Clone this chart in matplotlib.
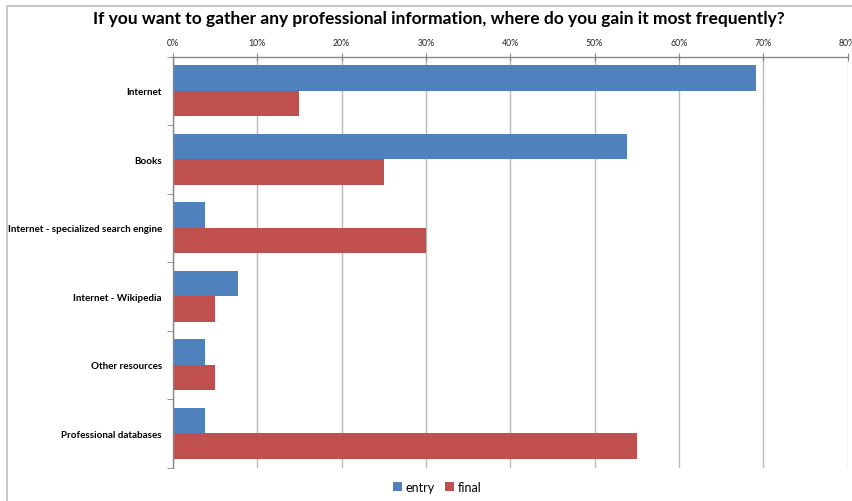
import matplotlib
matplotlib.use("Agg")
import matplotlib.pyplot as plt
import numpy as np
from matplotlib.patches import Rectangle
from matplotlib.ticker import FuncFormatter

plt.rcParams['font.family'] = ['Lato', 'DejaVu Sans']

title = "If you want to gather any professional information, where do you gain it most frequently?"
categories = ["Internet", "Books", "Internet - specialized search engine",
              "Internet - Wikipedia", "Other resources", "Professional databases"]
entry = [69.2, 53.8, 3.8, 7.7, 3.8, 3.8]
final = [15.0, 25.0, 30.0, 5.0, 5.0, 55.0]
series_names = ["entry", "final"]
x_ticks = [0, 10, 20, 30, 40, 50, 60, 70, 80]

blue = "#4F81BD"
red = "#C0504D"
axis_gray = "#868686"
grid_gray = "#B9B9B9"

W, H = 852, 502
fig = plt.figure(figsize=(W / 100, H / 100), dpi=100)
fig.patch.set_facecolor("white")

# chart area border (right and bottom edges lie outside the picture)
fig.add_artist(Rectangle((7 / W, -0.02), (W - 7 + 10) / W, (H - 7) / H + 0.02,
                         transform=fig.transFigure, fill=False,
                         edgecolor="#BDBDBD", linewidth=1.2))

left, right = 173 / W, 847.5 / W
top_px, bot_px = 57.5, 468.5
ax = fig.add_axes([left, 1 - bot_px / H, right - left, (bot_px - top_px) / H])

y = np.arange(len(categories))
h = 0.371
ax.barh(y - h / 2, entry, height=h, color=blue, label=series_names[0])
ax.barh(y + h / 2, final, height=h, color=red, label=series_names[1])

ax.set_xlim(0, 80)
ax.set_ylim(len(categories) - 0.5, -0.5)

ax.xaxis.tick_top()
ax.set_xticks(x_ticks)
ax.xaxis.set_major_formatter(FuncFormatter(lambda v, p: f"{int(v)}%"))
ax.tick_params(axis="x", which="major", direction="inout", length=6,
               color=axis_gray, labelsize=6.3, pad=4, labelcolor="#222222")

ax.set_yticks(y)
ax.set_yticklabels(categories, fontsize=7.1, fontweight="bold")
ax.set_yticks(np.arange(len(categories) + 1) - 0.5, minor=True)
ax.tick_params(axis="y", which="major", length=0, pad=8)
ax.tick_params(axis="y", which="minor", length=4, direction="out", color=axis_gray)

ax.grid(axis="x", color=grid_gray, linewidth=1)
ax.set_axisbelow(True)

for s in ["right", "bottom"]:
    ax.spines[s].set_visible(False)
for s in ["top", "left"]:
    ax.spines[s].set_color(axis_gray)
    ax.spines[s].set_linewidth(1)

fig.text(439 / W, 1 - 19 / H, title, ha="center", va="center",
         fontsize=12.5, fontweight="bold")

fig.legend(loc="center", bbox_to_anchor=(437 / W, 1 - 488 / H), ncol=2,
           frameon=False, fontsize=9, handlelength=0.7, handleheight=0.7,
           handletextpad=0.3, columnspacing=0.8)

fig.savefig("out.png", dpi=100)
